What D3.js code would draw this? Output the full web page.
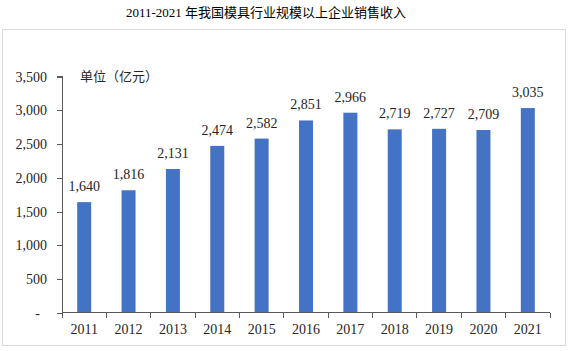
<!DOCTYPE html>
<html lang="zh">
  <head>
    <meta charset="utf-8">
    <title>2011-2021 模具行业销售收入</title>
    <script type="text/javascript" src="https://cdn.jsdelivr.net/npm/d3@7"></script>
    <style>
      body { margin: 0; background: #fff; }
      .axis path, .axis line { fill: none; stroke: #595959; shape-rendering: crispEdges; }
      .axis text { font-family: "Liberation Serif", serif; font-size: 14px; fill: #262626; }
    </style>
  </head>
  <body>
    <script type="text/javascript">

    //Data
    var years = ["2011", "2012", "2013", "2014", "2015", "2016", "2017", "2018", "2019", "2020", "2021"];
    var revenue = [1640, 1816, 2131, 2474, 2582, 2851, 2966, 2719, 2727, 2709, 3035];
    var yTicks = [0, 500, 1000, 1500, 2000, 2500, 3000, 3500];

    //Size
    var w = 570;
    var h = 351;
    var padL = 62, padR = 550, padT = 76.7, padB = 312.7;

    var svg = d3.select("body")
      .append("svg")
      .attr("width", w)
      .attr("height", h);

    //Title
    svg.append("text")
      .attr("x", 266)
      .attr("y", 17)
      .attr("text-anchor", "middle")
      .style("font-family", "'Liberation Serif', 'Noto Sans CJK SC', serif")
      .style("font-size", "13px")
      .style("fill", "#000")
      .text("2011-2021 年我国模具行业规模以上企业销售收入");

    //Frame
    svg.append("rect")
      .attr("x", 2.5)
      .attr("y", 29.5)
      .attr("width", 563)
      .attr("height", 316)
      .attr("fill", "none")
      .attr("stroke", "#d9d9d9");

    //Scales
    var xScale = d3.scaleBand()
      .domain(years)
      .range([padL, padR]);

    var yScale = d3.scaleLinear()
      .domain([0, 3500])
      .range([padB, padT]);

    //Bars
    var barW = 14;
    svg.selectAll("rect.bar")
      .data(revenue)
      .enter()
      .append("rect")
      .attr("class", "bar")
      .attr("x", function(d, i) { return xScale(years[i]) + xScale.bandwidth() / 2 - barW / 2; })
      .attr("y", function(d) { return yScale(d); })
      .attr("width", barW)
      .attr("height", function(d) { return padB - yScale(d); })
      .attr("fill", "#4472C4");

    //Value labels
    svg.selectAll("text.val")
      .data(revenue)
      .enter()
      .append("text")
      .attr("class", "val")
      .attr("x", function(d, i) { return xScale(years[i]) + xScale.bandwidth() / 2; })
      .attr("y", function(d) { return yScale(d) - 11; })
      .attr("text-anchor", "middle")
      .style("font-family", "'Liberation Serif', serif")
      .style("font-size", "14px")
      .style("fill", "#262626")
      .text(function(d) { return d3.format(",")(d); });

    //Y axis
    var yAxis = d3.axisLeft(yScale)
      .tickValues(yTicks)
      .tickSize(5)
      .tickPadding(10)
      .tickFormat(function(d) { return d === 0 ? "-" : d3.format(",")(d); });

    var gy = svg.append("g")
      .attr("class", "axis")
      .attr("transform", "translate(" + padL + ",0)")
      .call(yAxis);
    gy.select(".domain").attr("d", "M-5," + padT + "H0V" + padB);
    gy.selectAll(".tick").filter(function(d) { return d === 0; }).select("text").attr("dx", -7);

    //X axis
    var gx = svg.append("g")
      .attr("class", "axis")
      .attr("transform", "translate(0," + padB + ")");
    gx.append("line")
      .attr("x1", padL).attr("x2", padR)
      .attr("y1", 0).attr("y2", 0);
    gx.selectAll("line.tk")
      .data(d3.range(years.length + 1))
      .enter()
      .append("line")
      .attr("class", "tk")
      .attr("x1", function(i) { return padL + i * xScale.step(); })
      .attr("x2", function(i) { return padL + i * xScale.step(); })
      .attr("y1", 0).attr("y2", 5);
    gx.selectAll("text")
      .data(years)
      .enter()
      .append("text")
      .attr("x", function(d) { return xScale(d) + xScale.bandwidth() / 2; })
      .attr("y", 21)
      .attr("text-anchor", "middle")
      .text(function(d) { return d; });

    //Unit label
    svg.append("text")
      .attr("x", 80)
      .attr("y", 81)
      .style("font-family", "'Noto Sans CJK SC', sans-serif")
      .style("font-size", "13px")
      .style("fill", "#262626")
      .text("单位（亿元）");

    </script>
  </body>
</html>
